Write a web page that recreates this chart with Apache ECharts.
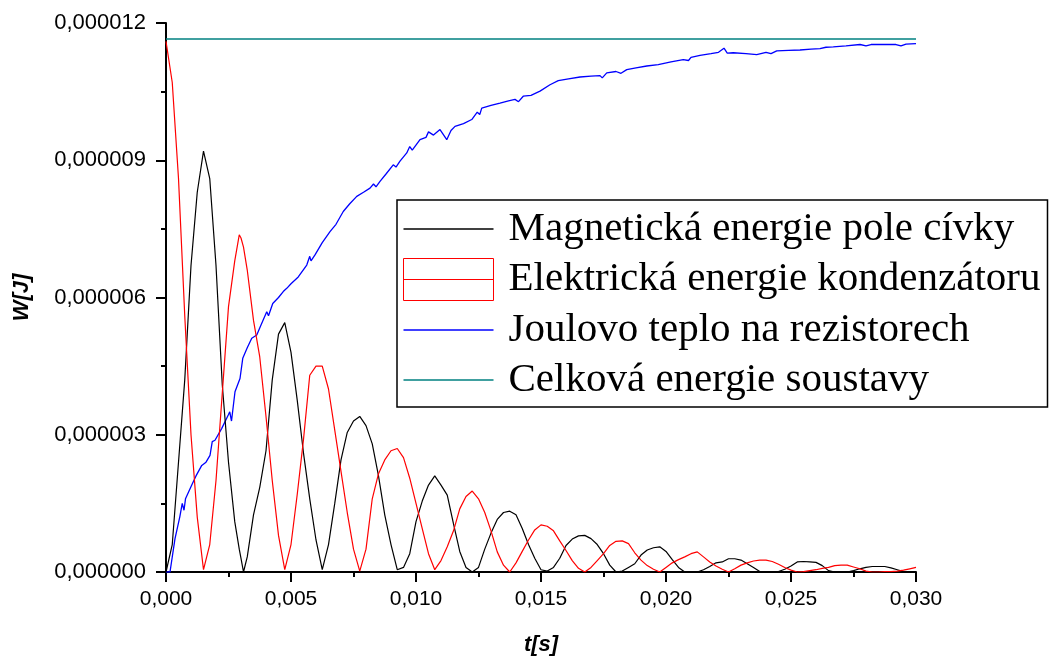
<!DOCTYPE html>
<html>
<head>
<meta charset="utf-8">
<title>Energie RLC obvodu</title>
<script src="https://cdn.jsdelivr.net/npm/echarts@6/dist/echarts.min.js"></script>
<style>
  html, body { margin: 0; padding: 0; background: #ffffff; }
  #chart { width: 1050px; height: 661px; }
</style>
</head>
<body>
<div id="chart"></div>
<script>
// Sampling times in milliseconds (every 0.25 ms, plus the first coil minimum)
const timeMs = [
  0, 0.25, 0.5, 0.75, 1, 1.25, 1.5, 1.75, 2, 2.25, 2.5, 2.75, 2.93,
  3, 3.1, 3.25, 3.5, 3.75, 4, 4.25, 4.5, 4.75, 5, 5.25, 5.5, 5.75,
  6, 6.25, 6.5, 6.75, 7, 7.25, 7.5, 7.75, 8, 8.25, 8.5, 8.75,
  9, 9.25, 9.5, 9.75, 10, 10.25, 10.5, 10.75, 11, 11.25, 11.5, 11.75,
  12, 12.25, 12.5, 12.75, 13, 13.25, 13.5, 13.75, 14, 14.25, 14.5, 14.75,
  15, 15.25, 15.5, 15.75, 16, 16.25, 16.5, 16.75, 17, 17.25, 17.5, 17.75,
  18, 18.25, 18.5, 18.75, 19, 19.25, 19.5, 19.75, 20, 20.25, 20.5, 20.75,
  21, 21.25, 21.5, 21.75, 22, 22.25, 22.5, 22.75, 23, 23.25, 23.5, 23.75,
  24, 24.25, 24.5, 24.75, 25, 25.25, 25.5, 25.75, 26, 26.25, 26.5, 26.75,
  27, 27.25, 27.5, 27.75, 28, 28.25, 28.5, 28.75, 29, 29.25, 29.5, 29.75,
  30
];

// Magnetic field energy of the coil, in microjoules
const magneticUJ = [
  0, 0.6, 2.4, 4.2, 6.7, 8.3, 9.2, 8.6, 6.7, 4.1, 2.4, 1.1, 0.5,
  0.3, 0, 0.33, 1.25, 1.85, 2.65, 4.2, 5.2, 5.45, 4.8, 3.75, 2.6, 1.6,
  0.7, 0.05, 0.6, 1.5, 2.45, 3.05, 3.3, 3.4, 3.2, 2.8, 2.1, 1.25,
  0.6, 0.05, 0.1, 0.4, 1.1, 1.55, 1.9, 2.1, 1.9, 1.68, 1.05, 0.45,
  0.1, 0, 0.1, 0.5, 0.85, 1.15, 1.3, 1.33, 1.25, 0.95, 0.6, 0.3,
  0.05, 0.02, 0.1, 0.3, 0.58, 0.72, 0.79, 0.8, 0.73, 0.6, 0.4, 0.15,
  0, 0.02, 0.1, 0.18, 0.37, 0.48, 0.53, 0.55, 0.45, 0.27, 0.1, 0,
  0, 0, 0.05, 0.12, 0.2, 0.22, 0.29, 0.29, 0.26, 0.18, 0.1, 0.01,
  0, 0, 0.01, 0.06, 0.13, 0.22, 0.23, 0.22, 0.21, 0.14, 0.03, 0,
  0, 0, 0.03, 0.07, 0.1, 0.12, 0.12, 0.12, 0.09, 0.05, 0.01, 0,
  0
];

// Electric field energy of the capacitor, in microjoules
const electricUJ = [
  11.6, 10.7, 8.6, 5.6, 3.0, 1.2, 0.05, 0.6, 2.0, 3.9, 5.8, 6.8, 7.37,
  7.3, 7.1, 6.6, 5.5, 4.7, 3.4, 2.0, 0.8, 0.05, 0.6, 1.7, 2.9, 4.3,
  4.5, 4.5, 4.0, 3.1, 2.2, 1.3, 0.5, 0.02, 0.5, 1.6, 2.15, 2.45,
  2.65, 2.7, 2.5, 2.05, 1.5, 0.95, 0.4, 0.05, 0.25, 0.55, 0.9, 1.38,
  1.65, 1.77, 1.6, 1.3, 0.9, 0.44, 0.15, 0, 0.2, 0.45, 0.7, 0.92,
  1.03, 1.0, 0.9, 0.68, 0.47, 0.25, 0.08, 0, 0.1, 0.25, 0.4, 0.58,
  0.67, 0.68, 0.62, 0.42, 0.26, 0.14, 0.06, 0, 0.1, 0.2, 0.27, 0.33,
  0.4, 0.44, 0.33, 0.22, 0.13, 0.06, 0, 0.07, 0.15, 0.2, 0.24, 0.26,
  0.26, 0.23, 0.17, 0.1, 0.04, 0, 0.01, 0.03, 0.05, 0.08, 0.1, 0.14,
  0.15, 0.15, 0.11, 0.07, 0.02, 0, 0, 0.01, 0.01, 0.02, 0.04, 0.07,
  0.1
];

// Joule heat dissipated in the resistors: [time ms, energy µJ]
const jouleUJ = [
  [0, 0], [0.16, 0], [0.36, 0.73], [0.55, 1.2], [0.65, 1.5], [0.72, 1.35], [0.78, 1.6],
  [1.03, 1.9], [1.2, 2.1], [1.43, 2.33], [1.6, 2.4], [1.76, 2.55], [1.85, 2.85], [1.96, 2.88],
  [2.23, 3.14], [2.49, 3.43], [2.55, 3.5], [2.62, 3.3], [2.76, 3.94], [2.96, 4.23], [3.07, 4.67],
  [3.25, 4.9], [3.43, 5.11], [3.63, 5.18], [3.8, 5.4], [4.03, 5.69], [4.1, 5.6], [4.27, 5.87],
  [4.5, 6.0], [4.69, 6.13], [4.83, 6.2], [5.0, 6.3], [5.29, 6.45], [5.63, 6.71], [5.75, 6.9],
  [5.8, 6.8], [5.96, 6.93], [6.25, 7.2], [6.56, 7.44], [6.8, 7.6], [7.09, 7.88], [7.35, 8.05],
  [7.63, 8.21], [7.9, 8.3], [8.16, 8.39], [8.3, 8.48], [8.4, 8.42], [8.56, 8.54], [8.8, 8.7],
  [9.09, 8.9], [9.2, 8.85], [9.36, 8.98], [9.63, 9.16], [9.75, 9.3], [9.85, 9.22], [10.16, 9.45],
  [10.4, 9.5], [10.5, 9.62], [10.7, 9.55], [10.96, 9.67], [11.23, 9.45], [11.4, 9.65], [11.56, 9.74],
  [11.9, 9.8], [12.23, 9.89], [12.45, 10.05], [12.55, 10.0], [12.63, 10.14], [13.0, 10.2],
  [13.36, 10.25], [13.7, 10.3], [13.96, 10.33], [14.1, 10.28], [14.29, 10.4], [14.6, 10.42],
  [14.96, 10.51], [15.36, 10.65], [15.69, 10.74], [16.1, 10.78], [16.56, 10.82], [17.0, 10.84],
  [17.36, 10.85], [17.45, 10.8], [17.63, 10.91], [18.0, 10.94], [18.2, 10.9], [18.43, 10.98],
  [18.8, 11.02], [19.23, 11.06], [19.69, 11.09], [20.2, 11.15], [20.69, 11.2], [20.9, 11.18],
  [21.0, 11.25], [21.36, 11.29], [21.8, 11.33], [22.1, 11.36], [22.32, 11.45], [22.45, 11.34],
  [22.69, 11.35], [23.2, 11.33], [23.63, 11.31], [24.0, 11.36], [24.2, 11.33], [24.43, 11.39],
  [24.9, 11.4], [25.36, 11.41], [25.8, 11.43], [26.16, 11.44], [26.4, 11.47], [26.69, 11.48],
  [27.2, 11.5], [27.76, 11.53], [28.0, 11.5], [28.2, 11.53], [28.83, 11.53], [29.2, 11.53],
  [29.4, 11.5], [29.6, 11.54], [30.0, 11.55]
];

// Total energy of the system: [time ms, energy µJ]
const totalUJ = [[0, 11.65], [30, 11.65]];

const seriesNames = [
  'Magnetická energie pole cívky',
  'Elektrická energie kondenzátoru',
  'Joulovo teplo na rezistorech',
  'Celková energie soustavy'
];

const xTickLabelsFormat = v => (v / 1000).toFixed(3).replace('.', ',');
const yTickLabelsFormat = v => (v / 1e6).toFixed(6).replace('.', ',');

const pair = (xs, ys) => xs.map((t, i) => [t, ys[i]]);

// Thin bar icon in a 90x42 box for the line entries of the legend
const lineIcon = 'path://M0,0 M90,42 M0,20.3 L90,20.3 L90,21.7 L0,21.7 Z';
const boxIcon = 'path://M0,0 L90,0 L90,42 L0,42 Z M0,21 L90,21';

const chart = echarts.init(document.getElementById('chart'));

const axisCommon = {
  axisLine: { show: true, onZero: false, lineStyle: { color: '#000', width: 2 } },
  axisTick: { show: true, inside: false, length: 10, lineStyle: { color: '#000', width: 2 } },
  minorTick: { show: true, splitNumber: 2, length: 5, lineStyle: { color: '#000', width: 2 } },
  splitLine: { show: false },
  minorSplitLine: { show: false }
};

chart.setOption({
  animation: false,
  backgroundColor: '#ffffff',
  grid: { left: 166, top: 23, width: 750, height: 550, containLabel: false },
  xAxis: Object.assign({
    type: 'value',
    min: 0, max: 30, interval: 5,
    name: 't[s]',
    nameLocation: 'middle',
    nameGap: 62,
    nameTextStyle: { fontFamily: 'Liberation Sans', fontSize: 22, fontWeight: 'bold', fontStyle: 'italic', color: '#000' },
    axisLabel: { formatter: xTickLabelsFormat, margin: 17, fontFamily: 'Liberation Sans', fontSize: 21, color: '#000' }
  }, axisCommon),
  yAxis: Object.assign({
    type: 'value',
    min: 0, max: 12, interval: 3,
    name: 'W[J]',
    nameLocation: 'middle',
    nameRotate: 90,
    nameGap: 133,
    nameTextStyle: { fontFamily: 'Liberation Sans', fontSize: 22, fontWeight: 'bold', fontStyle: 'italic', color: '#000' },
    axisLabel: { formatter: yTickLabelsFormat, margin: 20, fontFamily: 'Liberation Sans', fontSize: 22, color: '#000' }
  }, axisCommon),
  legend: {
    orient: 'vertical',
    left: 397,
    top: 200,
    padding: [8, 7, 6, 6],
    itemWidth: 90,
    itemHeight: 43,
    itemGap: 8,
    borderColor: '#000',
    borderWidth: 1.5,
    backgroundColor: '#ffffff',
    selectedMode: false,
    textStyle: { fontFamily: 'Liberation Serif', fontSize: 41, color: '#000', padding: [0, 0, 0, 10] },
    data: [
      { name: seriesNames[0], icon: lineIcon },
      { name: seriesNames[1], icon: boxIcon, itemStyle: { color: 'rgba(0,0,0,0)', borderColor: '#ff0000', borderWidth: 1 } },
      { name: seriesNames[2], icon: lineIcon },
      { name: seriesNames[3], icon: lineIcon }
    ]
  },
  series: [
    {
      name: seriesNames[3], type: 'line', data: totalUJ, symbol: 'none',
      color: '#008080', lineStyle: { color: '#008080', width: 1.3 }
    },
    {
      name: seriesNames[2], type: 'line', data: jouleUJ, symbol: 'none',
      color: '#0000ff', lineStyle: { color: '#0000ff', width: 1.3 }
    },
    {
      name: seriesNames[0], type: 'line', data: pair(timeMs, magneticUJ), symbol: 'none',
      color: '#000000', lineStyle: { color: '#000000', width: 1.2 }
    },
    {
      name: seriesNames[1], type: 'line', data: pair(timeMs, electricUJ), symbol: 'none',
      color: '#ff0000', lineStyle: { color: '#ff0000', width: 1.2 }
    }
  ]
});
</script>
</body>
</html>
